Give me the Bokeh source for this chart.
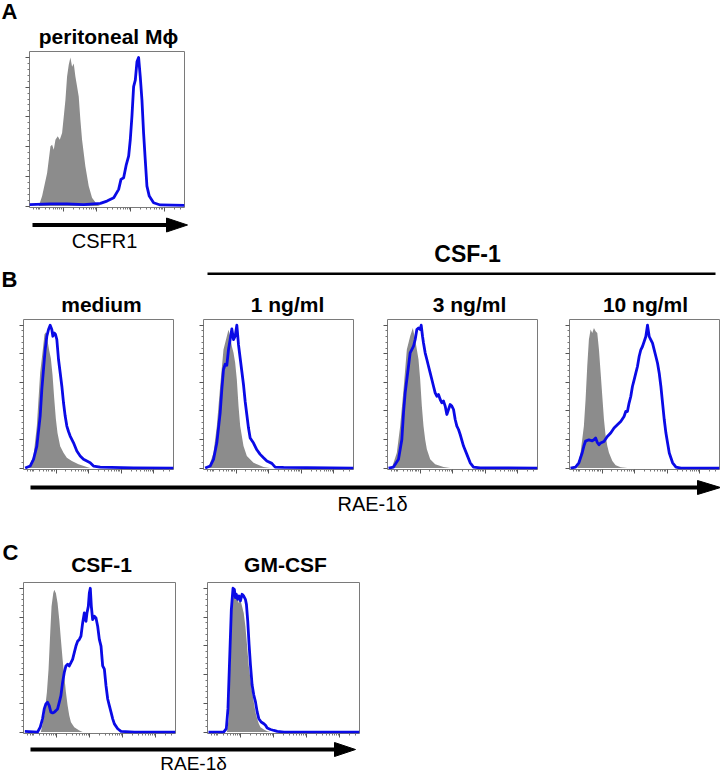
import math
from bokeh.plotting import figure
from bokeh.layouts import column, row, Spacer
from bokeh.models import Range1d, FixedTicker, CustomJSTickFormatter
from bokeh.core.properties import value
from bokeh.embed import file_html
from bokeh.resources import INLINE

FONT = "Liberation Sans"
BLUE = "#0a0ae6"
GRAY = "#8c8c8c"

# ---------------- data (x: log-decade fluorescence, y: % of max) ----------------
# Panel A  CSFR1 on peritoneal macrophages
a_iso_x = [0.276, 0.375, 0.523, 0.622, 0.671, 0.72, 0.77, 0.839, 0.898, 0.967, 1.017, 1.066, 1.115, 1.165,
           1.214, 1.264, 1.313, 1.362, 1.412, 1.461, 1.51, 1.56, 1.658, 1.757, 1.856, 2.004, 2.103]
a_iso_y = [0, 6.7, 22.3, 40.2, 41.3, 37.9, 44.6, 46.9, 44.6, 49.1, 60.3, 71.4, 87.1, 95.1,
           100, 93.8, 96.0, 87.1, 80.4, 73.7, 58.0, 44.6, 26.8, 13.4, 5.6, 1.1, 0]
a_stain_x = [0.0, 0.62, 1.115, 1.61, 2.103, 2.30, 2.50, 2.646, 2.715, 2.794, 2.873, 2.942, 2.991, 3.04,
             3.09, 3.14, 3.189, 3.238, 3.287, 3.337, 3.386, 3.435, 3.485, 3.554, 3.682, 3.88, 4.6]
a_stain_y = [1.0, 1.5, 1.5, 1.0, 1.8, 3.3, 5.6, 11.2, 17.9, 19.0, 27.9, 33.5, 44.6, 60.3,
             80.4, 84.8, 97.1, 100, 87.1, 71.4, 49.1, 31.2, 13.4, 6.7, 2.2, 0.7, 0.4]

# Panel B  RAE-1delta: medium
b0_iso_x = [0.153, 0.307, 0.409, 0.511, 0.593, 0.644, 0.685, 0.736, 0.787, 0.838, 0.89, 0.941, 0.992,
            1.043, 1.125, 1.227, 1.329, 1.483, 1.687, 1.943, 2.045]
b0_iso_y = [0, 8.4, 29.4, 66.7, 83.0, 93.7, 95.0, 89.5, 82.5, 76.9, 65.3, 49.0, 34.5,
            24.5, 15.2, 10.7, 7.2, 4.9, 2.6, 0.7, 0]
b0_stain_x = [0.051, 0.204, 0.307, 0.409, 0.511, 0.562, 0.613, 0.665, 0.716, 0.767, 0.818, 0.869, 0.9,
              0.941, 0.982, 1.022, 1.074, 1.125, 1.176, 1.227, 1.278, 1.329, 1.38, 1.431, 1.534, 1.636,
              1.738, 1.84, 1.943, 2.045, 2.147, 2.352, 3.374, 4.6]
b0_stain_y = [0, 1.4, 6.1, 15.4, 36.4, 55.0, 69.0, 83.0, 92.3, 97.0, 100, 97.0, 92.3,
              94.6, 93.5, 90.0, 76.0, 66.7, 57.3, 45.7, 36.4, 29.4, 25.6, 22.4, 17.7, 11.9,
              8.4, 6.1, 4.9, 3.7, 1.4, 0.7, 0.2, 0]

# CSF-1 1 ng/ml
b1_iso_x = [0.153, 0.307, 0.409, 0.511, 0.613, 0.716, 0.767, 0.818, 0.869, 0.92, 0.971, 1.022, 1.074,
            1.125, 1.227, 1.329, 1.534, 1.84, 2.045]
b1_iso_y = [0, 10.7, 29.4, 57.3, 83.0, 92.3, 96.9, 92.3, 85.3, 80.7, 73.7, 62.0, 43.4,
            29.4, 15.4, 8.4, 3.7, 0.7, 0]
b1_stain_x = [0.051, 0.204, 0.307, 0.409, 0.511, 0.562, 0.613, 0.665, 0.716, 0.767, 0.818, 0.869, 0.92,
              0.971, 1.022, 1.074, 1.125, 1.176, 1.227, 1.278, 1.329, 1.38, 1.431, 1.534, 1.636, 1.738,
              1.84, 1.943, 2.096, 2.198, 2.454, 4.6]
b1_stain_y = [0, 1.4, 6.1, 17.7, 38.7, 55.0, 69.0, 72.7, 72.0, 83.0, 90.0, 97.4, 90.0,
              92.3, 100, 86.2, 76.9, 67.6, 58.3, 46.6, 37.3, 28.0, 21.0, 17.5, 12.8, 9.6,
              7.2, 4.9, 3.3, 0.7, 0.5, 0]

# CSF-1 3 ng/ml
b3_iso_x = [0.133, 0.286, 0.389, 0.491, 0.593, 0.695, 0.777, 0.849, 0.9, 0.951, 1.002, 1.053, 1.104,
            1.155, 1.207, 1.309, 1.462, 1.718, 1.922]
b3_iso_y = [0, 10.7, 29.4, 55.0, 83.0, 92.3, 98.1, 90.0, 83.0, 76.0, 62.0, 43.4, 29.4,
            20.0, 13.1, 6.1, 2.6, 0.7, 0]
b3_stain_x = [0.031, 0.184, 0.337, 0.44, 0.491, 0.542, 0.593, 0.644, 0.695, 0.798, 0.849, 0.9, 0.951,
              1.002, 1.033, 1.074, 1.104, 1.155, 1.207, 1.258, 1.309, 1.36, 1.411, 1.462, 1.513, 1.564,
              1.616, 1.667, 1.718, 1.769, 1.82, 1.871, 1.922, 1.973, 2.025, 2.076, 2.127, 2.178, 2.229,
              2.331, 2.434, 2.536, 2.638, 2.843, 4.6]
b3_stain_y = [0, 0.7, 6.1, 20.0, 38.7, 52.7, 62.0, 71.3, 80.7, 85.3, 90.0, 97.0, 98.1,
              97.0, 100, 92.3, 87.6, 80.7, 76.0, 71.3, 66.7, 62.0, 57.3, 52.7, 50.3, 51.5,
              48.0, 45.7, 46.9, 43.4, 37.5, 41.0, 44.5, 43.4, 41.0, 34.0, 29.4, 27.0, 23.5,
              15.4, 9.6, 3.7, 0.7, 0.2, 0]

# CSF-1 10 ng/ml
b10_iso_x = [0.236, 0.339, 0.441, 0.493, 0.544, 0.595, 0.647, 0.698, 0.75, 0.801, 0.852, 0.903, 0.955,
             1.006, 1.057, 1.109, 1.16, 1.211, 1.314, 1.417, 1.571, 1.776]
b10_iso_y = [0, 10.7, 29.4, 48.0, 71.3, 90.0, 97.0, 94.6, 98.1, 95.8, 94.6, 83.0, 66.7,
             50.3, 34.0, 22.4, 15.4, 10.7, 4.9, 1.9, 0.5, 0]
b10_stain_x = [0.031, 0.185, 0.288, 0.39, 0.441, 0.493, 0.595, 0.698, 0.75, 0.801, 0.852, 0.903, 0.955,
               1.057, 1.16, 1.263, 1.366, 1.468, 1.571, 1.673, 1.725, 1.776, 1.827, 1.879, 1.93, 1.982,
               2.033, 2.084, 2.136, 2.187, 2.238, 2.29, 2.341, 2.392, 2.444, 2.495, 2.546, 2.598, 2.649,
               2.7, 2.752, 2.803, 2.854, 2.906, 2.957, 3.008, 3.06, 3.162, 3.265, 3.419, 4.6]
b10_stain_y = [0, 0.7, 3.7, 10.7, 15.4, 18.9, 19.8, 19.1, 19.8, 21.0, 17.9, 16.3, 17.5,
               18.6, 22.1, 24.5, 28.0, 30.3, 32.6, 36.1, 39.6, 39.6, 45.5, 50.1, 57.1, 61.8,
               66.4, 71.1, 78.1, 82.8, 85.1, 88.6, 92.1, 100, 92.1, 89.7, 87.4, 82.8, 78.1,
               73.4, 66.4, 57.1, 45.5, 33.8, 24.5, 17.5, 10.5, 3.7, 0.7, 0, 0]

# Panel C  RAE-1delta: CSF-1
c1_iso_x = [0.526, 0.627, 0.708, 0.758, 0.809, 0.849, 0.9, 0.93, 0.981, 1.031, 1.082, 1.132, 1.183,
            1.234, 1.284, 1.335, 1.385, 1.436, 1.537, 1.689, 1.79]
c1_iso_y = [0, 11.5, 27.6, 43.7, 69.0, 87.4, 96.6, 98.9, 96.6, 89.7, 78.2, 64.4, 50.6,
            39.1, 27.6, 18.4, 11.5, 6.9, 3.4, 1.1, 0]
c1_stain_x = [0.04, 0.425, 0.506, 0.576, 0.627, 0.677, 0.728, 0.779, 0.829, 0.88, 0.93, 0.981, 1.031,
              1.082, 1.132, 1.183, 1.234, 1.284, 1.335, 1.385, 1.436, 1.486, 1.537, 1.587, 1.638, 1.689,
              1.739, 1.79, 1.84, 1.891, 1.921, 1.962, 1.992, 2.022, 2.053, 2.093, 2.144, 2.194, 2.245,
              2.295, 2.346, 2.396, 2.447, 2.497, 2.548, 2.598, 2.649, 2.7, 2.75, 2.851, 2.952, 3.357, 4.6]
c1_stain_y = [0.5, 0, 3.4, 9.2, 16.1, 19.5, 20.7, 18.4, 13.8, 13.3, 13.8, 14.9, 16.1,
              20.7, 25.3, 34.5, 41.4, 46.0, 47.1, 46.0, 48.3, 50.6, 55.2, 59.8, 63.2, 64.4,
              66.7, 75.9, 82.8, 77.0, 82.8, 87.4, 96.6, 100, 87.4, 78.2, 80.5, 79.3, 73.6,
              64.4, 59.8, 46.0, 43.7, 32.2, 23.0, 18.4, 13.8, 9.2, 5.7, 2.3, 0.5, 0, 0]

# Panel C  RAE-1delta: GM-CSF
c2_iso_x = [0.589, 0.64, 0.69, 0.741, 0.792, 0.843, 0.893, 0.944, 0.995, 1.046, 1.096, 1.147, 1.198,
            1.249, 1.3, 1.35, 1.401, 1.452, 1.503, 1.553, 1.604, 1.706, 1.807, 1.909]
c2_iso_y = [0, 9.2, 50.6, 87.4, 96.6, 93.1, 94.3, 89.7, 92.0, 87.4, 82.8, 73.6, 59.8,
            46.0, 36.8, 27.6, 20.7, 13.8, 9.2, 5.7, 3.4, 1.8, 0.5, 0]
c2_stain_x = [0.03, 0.487, 0.569, 0.619, 0.67, 0.721, 0.772, 0.812, 0.843, 0.873, 0.914, 0.954, 0.995,
              1.046, 1.096, 1.147, 1.178, 1.218, 1.259, 1.3, 1.35, 1.401, 1.452, 1.503, 1.553, 1.624,
              1.706, 1.756, 1.807, 1.909, 2.01, 2.112, 2.315, 4.6]
c2_stain_y = [0, 0, 2.3, 16.1, 50.6, 85.1, 100, 99.3, 93.5, 95.8, 92.3, 94.6, 91.2,
              95.8, 94.6, 92.3, 88.8, 77.1, 60.7, 46.7, 32.7, 25.7, 21.0, 14.0, 9.3, 7.0,
              5.8, 4.7, 2.8, 1.8, 1.1, 0.5, 0, 0]

# texts
panel_letters = ["A", "B", "C"]
title_a = "peritoneal M\u03d5"
titles_b = ["medium", "1 ng/ml", "3 ng/ml", "10 ng/ml"]
header_b = "CSF-1"
titles_c = ["CSF-1", "GM-CSF"]
xlabel_a = "CSFR1"
xlabel_bc = "RAE-1\u03b4"

# axis ticks (decades, biexponential-like display)
x_major = [1, 2, 3, 4]
x_minor = sorted(set([round(d + math.log10(k), 3) for d in range(0, 5) for k in range(2, 10)
                      if d + math.log10(k) < 4.6] + [0.12, 0.2, 0.28]))
y_major = [0, 20, 40, 60, 80, 100]
y_minor = [v for v in range(0, 101, 4) if v % 20]

X_MAX = 4.6
Y_MIN, Y_MAX = -1, 104
PAGE_W = 720


def hist_fig(fw, fh, iso_x, iso_y, st_x, st_y):
    p = figure(width=fw + 7, height=fh + 7, x_range=Range1d(0, X_MAX), y_range=Range1d(Y_MIN, Y_MAX),
               output_backend="svg", toolbar_location=None,
               min_border_left=6, min_border_right=1, min_border_top=1, min_border_bottom=6,
               outline_line_color="#7a7a7a", outline_line_width=1,
               background_fill_color="white", border_fill_color="white")
    p.grid.visible = False
    for ax, maj, mino in ((p.xaxis, x_major, x_minor), (p.yaxis, y_major, y_minor)):
        ax.ticker = FixedTicker(ticks=maj, minor_ticks=mino)
        ax.formatter = CustomJSTickFormatter(code="return ''")
        ax.major_label_text_font_size = "0px"
        ax.major_label_standoff = 0
        ax.axis_line_color = None
        ax.major_tick_in = 0
        ax.major_tick_out = 4
        ax.minor_tick_in = 0
        ax.minor_tick_out = 2
        ax.major_tick_line_color = "#555555"
        ax.minor_tick_line_color = "#777777"
    p.varea(x=iso_x, y1=[0] * len(iso_x), y2=iso_y, fill_color=GRAY)
    p.line(x=st_x, y=st_y, line_color=BLUE, line_width=2.8, line_join="round")
    return p


def strip(h, top):
    # page-pixel coordinate system: y grows downward (inverted range)
    p = figure(width=PAGE_W, height=h, x_range=Range1d(0, PAGE_W), y_range=Range1d(top + h, top),
               output_backend="svg", toolbar_location=None, x_axis_type=None, y_axis_type=None,
               min_border_left=0, min_border_right=0, min_border_top=0, min_border_bottom=0,
               outline_line_color=None, background_fill_color="white", border_fill_color="white")
    p.grid.visible = False
    return p


def label(p, x, y, txt, size, bold=False, align="center"):
    p.text(x=[x], y=[y], text=[txt], text_font=value(FONT), text_font_size=size,
           text_font_style="bold" if bold else "normal", text_align=align,
           text_baseline="middle", text_color="black")


def arrow(p, x0, x1, y, head_len=21, head_half=7):
    p.segment(x0=[x0], y0=[y], x1=[x1 - head_len + 1], y1=[y], line_color="black", line_width=4)
    p.patch(x=[x1 - head_len, x1, x1 - head_len], y=[y - head_half, y, y + head_half],
            fill_color="black", line_color="black", line_width=1)


# ---- strips ----
s1 = strip(50, 0)
label(s1, 1, 11, panel_letters[0], "22px", bold=True, align="left")
label(s1, 108, 36, title_a, "21px", bold=True)

s2 = strip(105, 213)
arrow(s2, 32, 187, 224.5)
label(s2, 104, 240, xlabel_a, "20px")
label(s2, 467, 253, header_b, "23px", bold=True)
s2.segment(x0=[207], y0=[273.3], x1=[715], y1=[273.3], line_color="black", line_width=2.5)
label(s2, 1, 279, panel_letters[1], "22px", bold=True, align="left")
for cx, t in zip([101, 287, 469, 645], titles_b):
    label(s2, cx, 304, t, "21px", bold=True)

s3 = strip(106, 475)
arrow(s3, 30, 720, 487, head_len=23, head_half=7)
label(s3, 372, 503, xlabel_bc, "20px")
label(s3, 2, 552, panel_letters[2], "22px", bold=True, align="left")
for cx, t in zip([101, 285], titles_c):
    label(s3, cx, 564, t, "21px", bold=True)

s4 = strip(36, 739)
arrow(s4, 30, 355, 749)
label(s4, 193, 763, xlabel_bc, "19px")

# ---- histogram panels ----
fa = hist_fig(155, 156, a_iso_x, a_iso_y, a_stain_x, a_stain_y)
fb = [hist_fig(150, 150, ix, iy, sx, sy) for ix, iy, sx, sy in (
    (b0_iso_x, b0_iso_y, b0_stain_x, b0_stain_y),
    (b1_iso_x, b1_iso_y, b1_stain_x, b1_stain_y),
    (b3_iso_x, b3_iso_y, b3_stain_x, b3_stain_y),
    (b10_iso_x, b10_iso_y, b10_stain_x, b10_stain_y))]
fc = [hist_fig(152, 151, ix, iy, sx, sy) for ix, iy, sx, sy in (
    (c1_iso_x, c1_iso_y, c1_stain_x, c1_stain_y),
    (c2_iso_x, c2_iso_y, c2_stain_x, c2_stain_y))]

layout = column(
    s1,
    row(Spacer(width=23, height=163), fa),
    s2,
    row(Spacer(width=17, height=157), fb[0], Spacer(width=23, height=157), fb[1],
        Spacer(width=27, height=157), fb[2], Spacer(width=25, height=157), fb[3]),
    s3,
    row(Spacer(width=17, height=158), fc[0], Spacer(width=25, height=158), fc[1]),
    s4,
    spacing=0,
)

open("out.html", "w").write(file_html(layout, INLINE))
